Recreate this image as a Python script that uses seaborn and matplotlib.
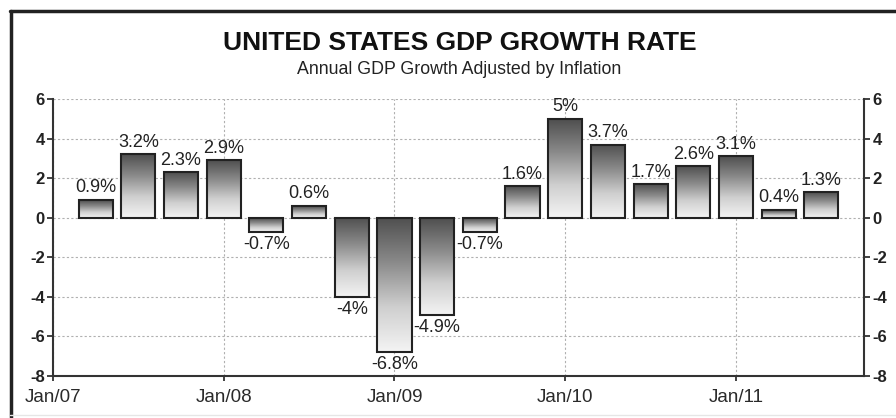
import numpy as np
import pandas as pd
import matplotlib
matplotlib.use("Agg")
import matplotlib.pyplot as plt
import seaborn as sns
from matplotlib.lines import Line2D

# ---- data ----
quarters = ["2007Q1", "2007Q2", "2007Q3", "2007Q4", "2008Q1", "2008Q2",
            "2008Q3", "2008Q4", "2009Q1", "2009Q2", "2009Q3", "2009Q4",
            "2010Q1", "2010Q2", "2010Q3", "2010Q4", "2011Q1", "2011Q2"]
growth = [0.9, 3.2, 2.3, 2.9, -0.7, 0.6, -4.0, -6.8, -4.9, -0.7, 1.6, 5.0,
          3.7, 1.7, 2.6, 3.1, 0.4, 1.3]
value_labels = ["0.9%", "3.2%", "2.3%", "2.9%", "-0.7%", "0.6%", "-4%", "-6.8%",
                "-4.9%", "-0.7%", "1.6%", "5%", "3.7%", "1.7%", "2.6%", "3.1%",
                "0.4%", "1.3%"]
year_ticks = ["Jan/07", "Jan/08", "Jan/09", "Jan/10", "Jan/11"]
y_ticks = [-8, -6, -4, -2, 0, 2, 4, 6]
title = "UNITED STATES GDP GROWTH RATE"
subtitle = "Annual GDP Growth Adjusted by Inflation"

# quarter-end position, measured in quarters since Jan 2007
pos = np.arange(1, len(quarters) + 1)
df = pd.DataFrame({"quarter": quarters, "pos": pos, "growth": growth})

sns.set_theme(style="white")
plt.rcParams["font.family"] = ["Liberation Sans", "DejaVu Sans"]

W, H = 896, 418
fig = plt.figure(figsize=(W / 100, H / 100), dpi=100)
ax = fig.add_axes([53 / W, 1 - 376 / H, (864 - 53) / W, (376 - 99) / H])

sns.barplot(data=df, x="pos", y="growth", native_scale=True, width=0.8,
            color="white", edgecolor="#222222", linewidth=1.5, ax=ax,
            errorbar=None, zorder=3)

ax.set_xlim(0, 19)
ax.set_ylim(-8, 6)

# gradient fill (dark top -> light bottom) clipped to each bar
cmap = matplotlib.colors.LinearSegmentedColormap.from_list(
    "g", ["#f4f4f4", "#cfcfcf", "#8a8a8a", "#4f4f4f"])
grad = np.linspace(0, 1, 256).reshape(-1, 1)
for p in ax.patches:
    x0, y0 = p.get_x(), p.get_y()
    w, h = p.get_width(), p.get_height()
    ylo, yhi = min(y0, y0 + h), max(y0, y0 + h)
    im = ax.imshow(grad, cmap=cmap, aspect="auto", origin="lower",
                   extent=[x0, x0 + w, ylo, yhi], zorder=2,
                   interpolation="bilinear")
    im.set_clip_path(p)
    p.set_facecolor("none")
    p.set_zorder(4)
ax.set_xlim(0, 19)
ax.set_ylim(-8, 6)

# value labels
for xp, v, lab in zip(pos, growth, value_labels):
    if v >= 0:
        ax.annotate(lab, (xp, v), xytext=(0, 2.5), textcoords="offset points",
                    ha="center", va="bottom", fontsize=13, color="#222222")
    else:
        ax.annotate(lab, (xp, v), xytext=(0, -3), textcoords="offset points",
                    ha="center", va="top", fontsize=13, color="#222222")

# axes styling
ax.set_xticks([0, 4, 8, 12, 16])
ax.set_xticklabels(year_ticks)
ax.set_yticks(y_ticks)
ax.set_yticklabels([str(t) for t in y_ticks], fontweight="bold")
ax.set_xlabel("")
ax.set_ylabel("")
ax.tick_params(axis="y", left=True, right=True, labelleft=True, labelright=True,
               direction="out", length=4.5, width=1.3, color="#333333",
               pad=1.5, labelsize=12, labelcolor="#222222")
ax.tick_params(axis="x", bottom=True, direction="out", length=3.5, width=1.3,
               color="#333333", pad=6, labelsize=13.5, labelcolor="#2a2a2a")
for s in ["left", "right", "bottom"]:
    ax.spines[s].set_visible(True)
    ax.spines[s].set_color("#333333")
    ax.spines[s].set_linewidth(1.5)
ax.spines["top"].set_visible(False)

ax.grid(True, axis="both", color="#b0b0b0", linestyle=(0, (2, 2)), linewidth=0.8)
ax.set_axisbelow(True)

# titles
fig.text(460 / W, 1 - 43 / H, title, ha="center", va="center",
         fontsize=19, fontweight="bold", color="#111111")
fig.text(459 / W, 1 - 69 / H, subtitle, ha="center", va="center",
         fontsize=12.8, color="#222222")

# outer frame
fig.add_artist(Line2D([10 / W, 1.0], [1 - 10.5 / H] * 2, transform=fig.transFigure,
                      color="#222222", linewidth=2.5))
fig.add_artist(Line2D([10.5 / W] * 2, [0.0, 1 - 10.5 / H], transform=fig.transFigure,
                      color="#222222", linewidth=2.5))
fig.add_artist(Line2D([10 / W, 1.0], [1 - 415 / H] * 2, transform=fig.transFigure,
                      color="#e6e6e6", linewidth=1))

fig.savefig("out.png", dpi=100, facecolor="white")
